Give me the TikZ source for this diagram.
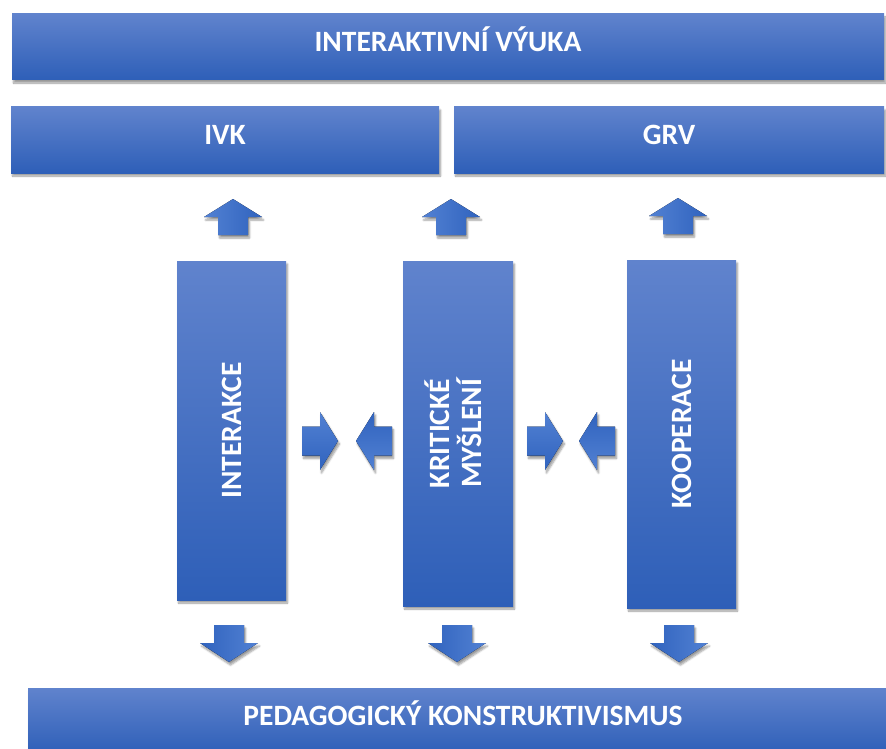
\documentclass[tikz,border=0pt]{standalone}
\usepackage{fontspec}
\setmainfont{Carlito}
\usepackage{graphicx}
\usetikzlibrary{shadows.blur}

\definecolor{barlight}{RGB}{96,131,205}
\definecolor{bardark}{RGB}{46,95,184}
\definecolor{arrlight}{RGB}{82,129,211}
\definecolor{arrdark}{RGB}{48,99,190}

\tikzset{
  softshadow/.style={blur shadow={shadow xshift=1.5pt, shadow yshift=-3pt, shadow blur steps=6, shadow opacity=40}},
  bar/.style={rectangle, inner sep=0pt, top color=barlight, bottom color=bardark, text=white, font=\fontsize{29.5}{31}\selectfont\bfseries, softshadow},
  hbar/.style={bar, text height=19pt, text depth=9.5pt},
  vbar/.style={bar},
  uparr/.pic={\fill[left color=arrlight, right color=arrdark, softshadow] (0,-18) -- (29,0) -- (15,0) -- (15,18) -- (-15,18) -- (-15,0) -- (-29,0) -- cycle;},
  downarr/.pic={\fill[left color=arrdark, right color=arrlight, softshadow] (0,19) -- (29,0) -- (15,0) -- (15,-18) -- (-15,-18) -- (-15,0) -- (-29,0) -- cycle;},
  rightarr/.pic={\fill[top color=arrlight, bottom color=arrdark, softshadow] (18,0) -- (0,-29) -- (0,-14.5) -- (-18,-14.5) -- (-18,14.5) -- (0,14.5) -- (0,29) -- cycle;},
  leftarr/.pic={\fill[top color=arrdark, bottom color=arrlight, softshadow] (-18,0) -- (0,-29) -- (0,-14.5) -- (18,-14.5) -- (18,14.5) -- (0,14.5) -- (0,29) -- cycle;}
}

\begin{document}
\begin{tikzpicture}[x=1pt, y=-1pt]
\useasboundingbox (0,0) rectangle (886,749);
% horni pruhy
\node[hbar, minimum width=872, minimum height=66] (vyuka) at (448,47) {INTERAKTIVNÍ VÝUKA};
\node[hbar, minimum width=428, minimum height=66] (ivk) at (225,140) {IVK};
\node[hbar, minimum width=430, minimum height=66] (grv) at (669,140) {GRV};
% sloupce
\node[vbar, minimum width=109, minimum height=339] (interakce) at (231.5,430.5) {\rotatebox{90}{INTERAKCE}};
\node[vbar, minimum width=110, minimum height=345] (kriticke) at (458,433.5) {\rotatebox{90}{\begin{tabular}{@{}c@{}}KRITICKÉ\\[-2pt]MYŠLENÍ\end{tabular}}};
\node[vbar, minimum width=109, minimum height=348] (kooperace) at (681.5,434) {\rotatebox{90}{KOOPERACE}};
% spodni pruh
\node[hbar, minimum width=870, minimum height=66] (konstr) at (463,721) {PEDAGOGICKÝ KONSTRUKTIVISMUS};
% sipky
\pic at (233,217) {uparr};
\pic at (451,217) {uparr};
\pic at (678,216) {uparr};
\pic at (320,441) {rightarr};
\pic at (374,441) {leftarr};
\pic at (545,441) {rightarr};
\pic at (597,441) {leftarr};
\pic at (229,643) {downarr};
\pic at (457,643) {downarr};
\pic at (679,643) {downarr};
\end{tikzpicture}
\end{document}
